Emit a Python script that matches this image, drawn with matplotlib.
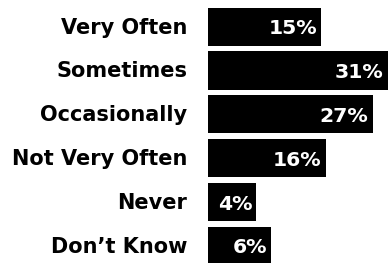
import matplotlib
matplotlib.use("Agg")
import matplotlib.pyplot as plt
import matplotlib.transforms as mtransforms

categories = ["Very Often", "Sometimes", "Occasionally", "Not Very Often", "Never", "Don\u2019t Know"]
values = [15, 31, 27, 16, 4, 6]
value_labels = ["15%", "31%", "27%", "16%", "4%", "6%"]

W, H, DPI = 388, 263, 100
fig = plt.figure(figsize=(W / DPI, H / DPI), dpi=DPI)
ax = fig.add_axes([208 / W, 0, 180 / W, 1])

p = 0.64
ax.set_xscale("function", functions=(lambda v: abs(v) ** p, lambda u: abs(u) ** (1 / p)))
ax.set_xlim(0, 31.05)

pitch = 43.9
ax.set_ylim((263 - 26.6) / pitch, -26.6 / pitch)

ypos = list(range(len(categories)))
ax.barh(ypos, values, height=38 / pitch, left=0, color="black")

font = "DejaVu Sans"
lab_tr = mtransforms.offset_copy(ax.transData, fig=fig, x=-21, y=-6.9, units="dots")
val_tr = mtransforms.offset_copy(ax.transData, fig=fig, x=-4, y=-7.3, units="dots")
for y, cat, v, vl in zip(ypos, categories, values, value_labels):
    ax.text(0, y, cat, transform=lab_tr, ha="right", va="baseline",
            fontsize=15, fontweight="bold", family=font, color="black", clip_on=False)
    ax.text(v, y, vl, transform=val_tr, ha="right", va="baseline",
            fontsize=14.7, fontweight="bold", family=font, color="white")

ax.axis("off")
fig.savefig("out.png", dpi=DPI)
